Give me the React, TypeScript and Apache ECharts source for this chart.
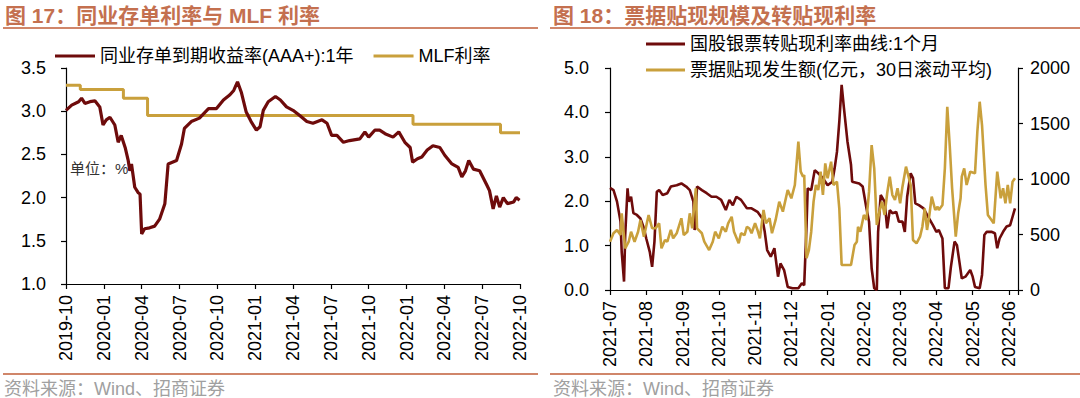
import { useEffect, useRef } from 'react';
import * as echarts from 'echarts';

// ---------- Left chart: 同业存单利率与 MLF 利率 ----------
const leftXTicks = ['2019-10','2020-01','2020-04','2020-07','2020-10','2021-01','2021-04','2021-07','2021-10','2022-01','2022-04','2022-07','2022-10'];
const cdDates = ['2019-10-01','2019-10-15','2019-11-01','2019-11-08','2019-11-16','2019-11-28','2019-12-10','2019-12-22','2019-12-30','2020-01-07','2020-01-16','2020-01-28','2020-02-05','2020-02-12','2020-02-21','2020-02-28','2020-03-03','2020-03-07','2020-03-15','2020-03-23','2020-03-28','2020-04-01','2020-04-08','2020-04-20','2020-05-02','2020-05-14','2020-05-27','2020-06-04','2020-06-24','2020-07-06','2020-07-13','2020-07-30','2020-08-19','2020-09-10','2020-09-29','2020-10-16','2020-11-01','2020-11-10','2020-11-19','2020-11-28','2020-12-10','2020-12-22','2021-01-04','2021-01-13','2021-01-21','2021-02-02','2021-02-18','2021-03-01','2021-03-16','2021-04-01','2021-04-17','2021-05-04','2021-05-19','2021-06-10','2021-06-22','2021-07-03','2021-07-16','2021-08-01','2021-08-16','2021-09-10','2021-09-22','2021-10-01','2021-10-16','2021-10-28','2021-11-10','2021-11-29','2021-12-13','2021-12-28','2022-01-10','2022-01-16','2022-01-28','2022-02-07','2022-02-19','2022-03-04','2022-03-21','2022-04-02','2022-04-19','2022-05-04','2022-05-13','2022-05-22','2022-05-30','2022-06-10','2022-06-25','2022-07-13','2022-07-19','2022-07-28','2022-08-05','2022-08-13','2022-08-22','2022-09-01','2022-09-16','2022-09-22','2022-09-30'];
const cdValues = [3.01,3.07,3.11,3.15,3.09,3.11,3.12,3.05,2.84,2.90,2.93,2.84,2.64,2.72,2.58,2.43,2.31,2.39,2.12,2.06,2.04,1.58,1.64,1.65,1.67,1.75,1.93,2.39,2.43,2.62,2.80,2.88,2.92,3.03,3.03,3.13,3.19,3.24,3.34,3.22,2.99,2.88,2.78,2.82,3.01,3.11,3.17,3.13,3.05,3.01,2.95,2.88,2.86,2.90,2.86,2.72,2.72,2.64,2.66,2.68,2.76,2.70,2.78,2.78,2.74,2.70,2.76,2.64,2.58,2.41,2.45,2.47,2.55,2.60,2.58,2.49,2.39,2.35,2.24,2.31,2.43,2.33,2.31,2.14,2.08,1.87,2.02,1.89,2.00,1.93,1.95,2.00,1.97];
const mlfDates = ['2019-10-01','2019-11-05','2020-02-17','2020-04-15','2022-01-17','2022-08-15','2022-10-01'];
const mlfValues = [3.30,3.25,3.15,2.95,2.85,2.75,2.75];

// ---------- Right chart: 票据贴现规模及转贴现利率 ----------
const rightXTicks = ['2021-07','2021-08','2021-09','2021-10','2021-11','2021-12','2022-01','2022-02','2022-03','2022-04','2022-05','2022-06'];
const rateDates = ['2021-07-01','2021-07-04','2021-07-07','2021-07-10','2021-07-11','2021-07-13','2021-07-14','2021-07-16','2021-07-17','2021-07-19','2021-07-21','2021-07-24','2021-07-27','2021-07-30','2021-08-01','2021-08-04','2021-08-06','2021-08-08','2021-08-10','2021-08-12','2021-08-15','2021-08-19','2021-08-22','2021-08-27','2021-08-31','2021-09-04','2021-09-07','2021-09-10','2021-09-11','2021-09-13','2021-09-17','2021-09-21','2021-09-25','2021-09-29','2021-10-03','2021-10-07','2021-10-10','2021-10-13','2021-10-16','2021-10-20','2021-10-25','2021-10-29','2021-11-03','2021-11-07','2021-11-09','2021-11-11','2021-11-14','2021-11-17','2021-11-20','2021-11-22','2021-11-25','2021-11-28','2021-12-02','2021-12-07','2021-12-10','2021-12-12','2021-12-14','2021-12-15','2021-12-18','2021-12-21','2021-12-24','2021-12-28','2022-01-01','2022-01-05','2022-01-07','2022-01-09','2022-01-11','2022-01-13','2022-01-15','2022-01-18','2022-01-21','2022-01-22','2022-01-28','2022-01-31','2022-02-03','2022-02-05','2022-02-07','2022-02-09','2022-02-11','2022-02-12','2022-02-14','2022-02-17','2022-02-19','2022-02-21','2022-02-23','2022-02-26','2022-02-28','2022-03-03','2022-03-05','2022-03-07','2022-03-10','2022-03-12','2022-03-14','2022-03-17','2022-03-21','2022-03-24','2022-03-29','2022-04-01','2022-04-03','2022-04-06','2022-04-08','2022-04-11','2022-04-13','2022-04-16','2022-04-18','2022-04-20','2022-04-22','2022-04-25','2022-04-29','2022-05-01','2022-05-03','2022-05-07','2022-05-09','2022-05-11','2022-05-13','2022-05-17','2022-05-20','2022-05-22','2022-05-24','2022-05-27','2022-05-30','2022-06-02','2022-06-04','2022-06-06'];
const rateValues = [2.30,2.25,1.99,1.54,0.86,0.19,1.24,2.29,1.99,2.10,1.73,1.69,1.61,1.39,1.16,0.86,0.52,1.09,2.21,2.25,2.14,2.18,2.33,2.36,2.40,2.33,2.25,1.99,1.35,2.33,2.25,2.18,2.10,2.10,2.03,1.80,2.03,1.91,2.10,2.03,1.84,1.84,1.76,1.61,1.31,0.90,0.75,0.94,0.30,0.60,0.45,0.07,0.04,0.04,0.15,0.11,1.46,2.29,2.25,2.70,2.63,2.52,2.36,2.44,2.74,3.11,3.79,4.62,4.09,3.34,2.82,2.44,2.40,2.33,1.84,1.54,0.49,0.04,0.00,1.31,2.14,1.99,1.39,1.80,1.73,1.76,1.54,1.54,1.31,2.10,2.63,2.52,1.95,1.91,1.84,1.69,1.46,1.31,1.35,1.16,0.04,0.04,0.52,1.09,1.01,0.64,0.26,0.30,0.45,0.30,0.07,0.04,0.34,1.24,1.31,1.31,1.28,0.94,1.16,1.31,1.43,1.46,1.65,1.84];
const volDates = ['2021-07-01','2021-07-04','2021-07-07','2021-07-10','2021-07-11','2021-07-14','2021-07-17','2021-07-19','2021-07-22','2021-07-25','2021-07-27','2021-07-30','2021-08-03','2021-08-06','2021-08-09','2021-08-12','2021-08-14','2021-08-17','2021-08-19','2021-08-22','2021-08-24','2021-08-27','2021-08-31','2021-09-02','2021-09-05','2021-09-07','2021-09-09','2021-09-12','2021-09-13','2021-09-17','2021-09-19','2021-09-23','2021-09-26','2021-09-28','2021-10-01','2021-10-04','2021-10-07','2021-10-09','2021-10-12','2021-10-14','2021-10-18','2021-10-20','2021-10-23','2021-10-25','2021-10-27','2021-10-29','2021-11-01','2021-11-03','2021-11-05','2021-11-08','2021-11-10','2021-11-13','2021-11-15','2021-11-18','2021-11-21','2021-11-24','2021-11-28','2021-12-01','2021-12-04','2021-12-07','2021-12-09','2021-12-11','2021-12-12','2021-12-14','2021-12-16','2021-12-18','2021-12-20','2021-12-22','2021-12-24','2021-12-26','2021-12-28','2021-12-30','2022-01-01','2022-01-04','2022-01-06','2022-01-09','2022-01-11','2022-01-13','2022-01-21','2022-01-24','2022-01-26','2022-01-27','2022-01-29','2022-02-01','2022-02-03','2022-02-05','2022-02-07','2022-02-09','2022-02-11','2022-02-13','2022-02-15','2022-02-17','2022-02-19','2022-02-21','2022-02-23','2022-02-25','2022-02-27','2022-03-01','2022-03-03','2022-03-06','2022-03-10','2022-03-12','2022-03-15','2022-03-18','2022-03-20','2022-03-22','2022-03-24','2022-03-26','2022-03-28','2022-03-31','2022-04-02','2022-04-03','2022-04-06','2022-04-08','2022-04-10','2022-04-12','2022-04-14','2022-04-17','2022-04-19','2022-04-21','2022-04-22','2022-04-24','2022-04-26','2022-04-29','2022-05-03','2022-05-05','2022-05-07','2022-05-09','2022-05-12','2022-05-14','2022-05-16','2022-05-19','2022-05-22','2022-05-25','2022-05-27','2022-05-29','2022-05-31','2022-06-02','2022-06-04','2022-06-06'];
const volValues = [435,511,541,495,691,376,435,525,435,525,631,480,676,556,556,601,376,450,435,541,466,511,646,495,525,691,556,916,556,511,435,360,435,525,466,570,525,601,660,525,421,511,495,570,556,511,601,541,466,721,601,646,511,631,796,706,901,826,946,1336,1066,1021,1036,286,360,525,796,946,901,1066,856,1141,1006,1156,946,976,736,225,225,405,435,570,525,676,631,886,1306,1096,586,706,796,676,871,1021,856,811,916,781,931,1111,946,450,421,480,570,736,541,676,841,721,751,721,766,1096,1651,1306,916,480,691,826,1021,1096,946,1066,1051,1426,1696,1486,946,676,646,601,1066,826,916,781,946,781,976,1006];

const RED = '#6E0B0B';
const GOLD = '#C9A03C';
const TITLE = '#C4704F';
const RULE = '#D0866A';
const FONT = '"Liberation Sans", "Noto Sans CJK SC", sans-serif';

function monthOffset(date: string, startY: number, startM: number): number {
  const [y, m, d] = date.split('-').map(Number);
  const dim = new Date(y, m, 0).getDate();
  return (y - startY) * 12 + (m - startM) + (d - 1) / dim;
}

function pairs(dates: string[], vals: number[], sy: number, sm: number) {
  return dates.map((d, i) => [monthOffset(d, sy, sm), vals[i]]);
}

const axisLabelBase = { color: '#000', fontSize: 18, fontFamily: FONT };
const axisLineBase = { show: true, onZero: false, lineStyle: { color: '#000', width: 1.2 } };
const axisTickBase = { show: true, length: 5, lineStyle: { color: '#000', width: 1.2 } };

export default function App() {
  const ref = useRef<HTMLDivElement>(null);
  useEffect(() => {
    if (!ref.current) return;
    const chart = echarts.init(ref.current, null, { renderer: 'svg' });
    const option: any = {
      animation: false,
      backgroundColor: '#fff',
      textStyle: { fontFamily: FONT },
      grid: [
        { left: 66, top: 68, width: 454, height: 216 },
        { left: 610, top: 68, width: 408, height: 222 },
      ],
      legend: [
        {
          left: 55, top: 47, padding: 0, itemGap: 20, itemWidth: 40, itemHeight: 3, icon: 'rect',
          data: ['同业存单到期收益率(AAA+):1年', 'MLF利率'],
          textStyle: { fontSize: 18, color: '#000', fontFamily: FONT },
        },
        {
          left: 646, top: 35, padding: 0, orient: 'vertical', itemGap: 8, itemWidth: 39, itemHeight: 3, icon: 'rect',
          data: ['国股银票转贴现利率曲线:1个月', '票据贴现发生额(亿元，30日滚动平均)'],
          textStyle: { fontSize: 18, color: '#000', fontFamily: FONT },
        },
      ],
      xAxis: [
        {
          type: 'value', gridIndex: 0, min: 0, max: 36, interval: 3,
          axisLine: axisLineBase, axisTick: axisTickBase, splitLine: { show: false },
          axisLabel: {
            ...axisLabelBase, rotate: 90, margin: 11,
            formatter: (v: number) => {
              const i = Math.round(v / 3);
              return Math.abs(v - i * 3) < 1e-6 ? leftXTicks[i] ?? '' : '';
            },
          },
        },
        {
          type: 'value', gridIndex: 1, min: 0, max: 11.25, interval: 1,
          axisLine: axisLineBase, axisTick: axisTickBase, splitLine: { show: false },
          axisLabel: {
            ...axisLabelBase, rotate: 90, margin: 11,
            formatter: (v: number) => {
              const i = Math.round(v);
              return Math.abs(v - i) < 1e-6 ? rightXTicks[i] ?? '' : '';
            },
          },
        },
      ],
      yAxis: [
        {
          type: 'value', gridIndex: 0, min: 1, max: 3.5, interval: 0.5,
          axisLine: axisLineBase, axisTick: axisTickBase, splitLine: { show: false },
          axisLabel: { ...axisLabelBase, margin: 20, formatter: (v: number) => v.toFixed(1) },
        },
        {
          type: 'value', gridIndex: 1, min: 0, max: 5, interval: 1, position: 'left',
          axisLine: axisLineBase, axisTick: axisTickBase, splitLine: { show: false },
          axisLabel: { ...axisLabelBase, margin: 21, formatter: (v: number) => v.toFixed(1) },
        },
        {
          type: 'value', gridIndex: 1, min: 0, max: 2000, interval: 500, position: 'right',
          axisLine: axisLineBase, axisTick: axisTickBase, splitLine: { show: false },
          axisLabel: { ...axisLabelBase, margin: 12, formatter: (v: number) => String(Math.round(v)) },
        },
      ],
      series: [
        {
          name: 'MLF利率', type: 'line', xAxisIndex: 0, yAxisIndex: 0, step: 'end',
          showSymbol: false, symbol: 'none', color: GOLD,
          lineStyle: { color: GOLD, width: 3 },
          data: pairs(mlfDates, mlfValues, 2019, 10),
        },
        {
          name: '同业存单到期收益率(AAA+):1年', type: 'line', xAxisIndex: 0, yAxisIndex: 0,
          showSymbol: false, symbol: 'none', color: RED,
          lineStyle: { color: RED, width: 3.2 },
          data: pairs(cdDates, cdValues, 2019, 10),
        },
        {
          name: '国股银票转贴现利率曲线:1个月', type: 'line', xAxisIndex: 1, yAxisIndex: 1,
          showSymbol: false, symbol: 'none', color: RED,
          lineStyle: { color: RED, width: 2.6 },
          data: pairs(rateDates, rateValues, 2021, 7),
        },
        {
          name: '票据贴现发生额(亿元，30日滚动平均)', type: 'line', xAxisIndex: 1, yAxisIndex: 2,
          showSymbol: false, symbol: 'none', color: GOLD,
          lineStyle: { color: GOLD, width: 2.6 },
          data: pairs(volDates, volValues, 2021, 7),
        },
      ],
      graphic: [
        { type: 'text', x: 5, y: 15, style: { text: '图 17：同业存单利率与 MLF 利率', fill: TITLE, fontSize: 21, fontWeight: 'bold', fontFamily: FONT, textVerticalAlign: 'middle' } },
        { type: 'line', shape: { x1: 3, y1: 28, x2: 538, y2: 28 }, style: { stroke: RULE, lineWidth: 2 } },
        { type: 'text', x: 553, y: 15, style: { text: '图 18：票据贴现规模及转贴现利率', fill: TITLE, fontSize: 21, fontWeight: 'bold', fontFamily: FONT, textVerticalAlign: 'middle' } },
        { type: 'line', shape: { x1: 550, y1: 28, x2: 1080, y2: 28 }, style: { stroke: RULE, lineWidth: 2 } },
        { type: 'text', x: 70, y: 168, style: { text: '单位：%', fill: '#333', fontSize: 15, fontFamily: FONT, textVerticalAlign: 'middle' } },
        { type: 'line', shape: { x1: 3, y1: 374, x2: 538, y2: 374 }, style: { stroke: RULE, lineWidth: 2 } },
        { type: 'line', shape: { x1: 550, y1: 374, x2: 1080, y2: 374 }, style: { stroke: RULE, lineWidth: 2 } },
        { type: 'text', x: 4, y: 389, style: { text: '资料来源：Wind、招商证券', fill: '#a0a0a0', fontSize: 18, fontFamily: FONT, textVerticalAlign: 'middle' } },
        { type: 'text', x: 553, y: 389, style: { text: '资料来源：Wind、招商证券', fill: '#a0a0a0', fontSize: 18, fontFamily: FONT, textVerticalAlign: 'middle' } },
      ],
    };
    chart.setOption(option);
    return () => chart.dispose();
  }, []);
  return (
    <div
      ref={ref}
      style={{ position: 'absolute', left: 0, top: 0, width: 1080, height: 398, background: '#fff' }}
    />
  );
}
